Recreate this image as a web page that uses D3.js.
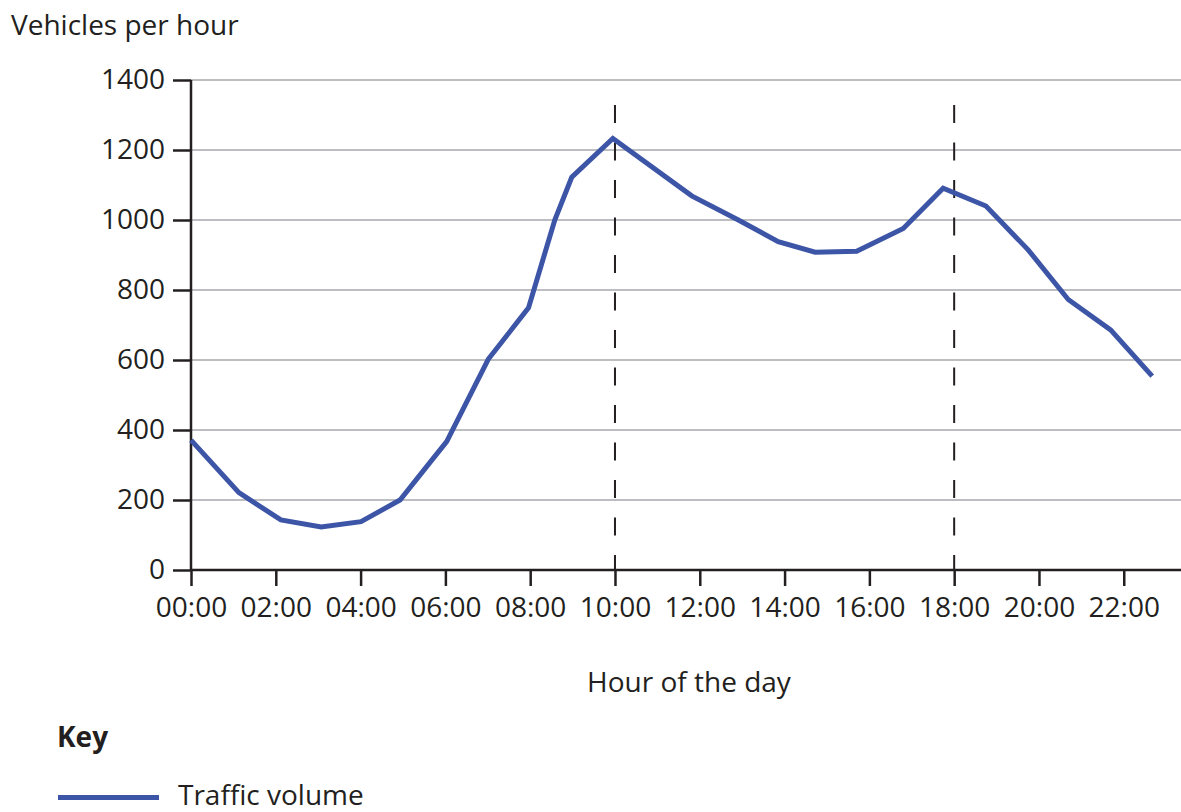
<!DOCTYPE html>
<html>
<head>
<meta charset="utf-8">
<script src="https://cdn.jsdelivr.net/npm/d3@7"></script>
<style>
  body { margin: 0; background: #fff; }
  svg { display: block; }
  svg text { font-family: 'Open Sans', sans-serif; }
</style>
</head>
<body>
<div id="chart"></div>
<script>
// hour of day (decimal) and vehicles per hour
const hours = [0, 1.13, 2.12, 3.07, 4.01, 4.93, 5.68, 6.03, 7.01, 7.96, 8.58, 8.98, 9.95,
  11.81, 12.91, 13.85, 14.72, 15.7, 16.8, 17.74, 18.75, 19.75, 20.69, 21.69, 22.67]
const vehicles = [371, 221, 143, 123, 138, 200, 314, 367, 602, 749, 1000, 1122, 1233,
  1069, 1000, 938, 908, 911, 976, 1091, 1040, 914, 773, 686, 554]
const xTicks = [0, 2, 4, 6, 8, 10, 12, 14, 16, 18, 20, 22]
const yTicks = [0, 200, 400, 600, 800, 1000, 1200, 1400]
const markers = [10, 18]

const W = 1181, H = 812
const margin = { top: 80, right: 0, bottom: 242, left: 191 }
const width = W - margin.left - margin.right
const height = H - margin.top - margin.bottom
const ink = '#231f20'
const blue = '#3d55a6'

const svg = d3.select('#chart').append('svg')
  .attr('width', W).attr('height', H)

const g = svg.append('g').attr('transform', `translate(${margin.left},${margin.top})`)

const x = d3.scaleLinear().domain([0, 23.35]).range([0, width])
const y = d3.scaleLinear().domain([0, 1400]).range([height, 0])

// grid lines
g.append('g')
  .selectAll('line')
  .data(yTicks.filter((d) => d > 0))
  .join('line')
  .attr('x1', 0).attr('x2', width)
  .attr('y1', (d) => y(d)).attr('y2', (d) => y(d))
  .attr('stroke', '#a7a9ac').attr('stroke-width', 1.3)

// dashed markers
g.append('g')
  .selectAll('line')
  .data(markers)
  .join('line')
  .attr('x1', (d) => x(d)).attr('x2', (d) => x(d))
  .attr('y1', 25).attr('y2', height)
  .attr('stroke', ink).attr('stroke-width', 2)
  .attr('stroke-dasharray', '18,19.5')

// x axis
const xAxis = g.append('g')
  .attr('transform', `translate(0,${height})`)
  .call(d3.axisBottom(x).tickValues(xTicks).tickSize(16).tickPadding(11)
    .tickFormat((d) => String(d).padStart(2, '0') + ':00'))
xAxis.select('.domain').attr('stroke', ink).attr('stroke-width', 2.5)
  .attr('d', `M0,0H${width}`)
xAxis.selectAll('.tick line').attr('stroke', ink).attr('stroke-width', 2.5)
xAxis.selectAll('.tick text').attr('fill', ink).attr('font-size', 28)

// y axis
const yAxis = g.append('g')
  .call(d3.axisLeft(y).tickValues(yTicks).tickSize(18).tickPadding(8).tickFormat(d3.format('d')))
yAxis.select('.domain').attr('stroke', ink).attr('stroke-width', 2.5)
  .attr('d', `M0,0V${height}`)
yAxis.selectAll('.tick line').attr('stroke', ink).attr('stroke-width', 2.5)
yAxis.selectAll('.tick text').attr('fill', ink).attr('font-size', 28)

// traffic line
const rows = hours.map((h, i) => ({ h, v: vehicles[i] }))
g.append('path')
  .datum(rows)
  .attr('d', d3.line().x((d) => x(d.h)).y((d) => y(d.v)))
  .attr('fill', 'none')
  .attr('stroke', blue)
  .attr('stroke-width', 5)

// labels
svg.append('text')
  .attr('x', 11).attr('y', 35)
  .attr('font-size', 28).attr('fill', ink)
  .text('Vehicles per hour')

svg.append('text')
  .attr('x', 689).attr('y', 692)
  .attr('text-anchor', 'middle')
  .attr('font-size', 28).attr('fill', ink)
  .text('Hour of the day')

// key
svg.append('text')
  .attr('x', 57).attr('y', 747)
  .attr('font-size', 28).attr('font-weight', 'bold').attr('fill', ink)
  .text('Key')

svg.append('line')
  .attr('x1', 58).attr('x2', 159)
  .attr('y1', 797.5).attr('y2', 797.5)
  .attr('stroke', blue).attr('stroke-width', 5)

svg.append('text')
  .attr('x', 178).attr('y', 805)
  .attr('font-size', 28).attr('fill', ink)
  .text('Traffic volume')
</script>
</body>
</html>
